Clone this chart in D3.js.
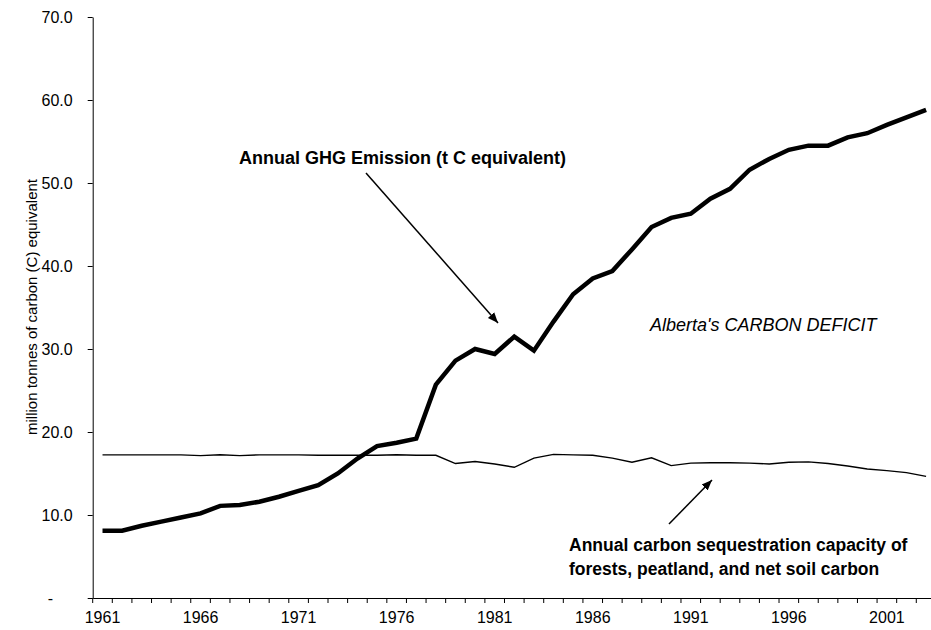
<!DOCTYPE html>
<html>

<head>
  <title>Alberta Carbon Deficit</title>
  <script src="https://cdn.jsdelivr.net/npm/d3@7"></script>
  <style>
    body { margin: 0; background: #fff; }
    text { font-family: Arial, 'Liberation Sans', sans-serif; }
  </style>
</head>

<body>
  <svg width="931" height="630" id="mainsvg"></svg>
  <script>
    const svg = d3.select('#mainsvg');

    // data
    const years = d3.range(1961, 2004);
    const emission = [8.1, 8.1, 8.7, 9.2, 9.7, 10.2, 11.1, 11.2, 11.6, 12.2,
      12.9, 13.6, 15.0, 16.8, 18.3, 18.7, 19.2, 25.7, 28.6, 30.0,
      29.4, 31.5, 29.8, 33.3, 36.6, 38.5, 39.4, 42.0, 44.7, 45.8,
      46.3, 48.1, 49.3, 51.6, 52.9, 54.0, 54.5, 54.5, 55.5, 56.0,
      57.0, 57.9, 58.8];
    const sequestration = [17.25, 17.25, 17.25, 17.25, 17.25, 17.15, 17.25, 17.15, 17.25, 17.25,
      17.25, 17.2, 17.2, 17.2, 17.2, 17.25, 17.2, 17.2, 16.2, 16.45,
      16.15, 15.75, 16.85, 17.3, 17.25, 17.2, 16.85, 16.35, 16.9, 15.95,
      16.25, 16.3, 16.3, 16.25, 16.15, 16.35, 16.4, 16.2, 15.9, 15.55,
      15.35, 15.1, 14.65];
    const yTicks = [0, 10, 20, 30, 40, 50, 60, 70];
    const xLabelYears = [1961, 1966, 1971, 1976, 1981, 1986, 1991, 1996, 2001];

    const xScale = d3.scaleBand().domain(years).range([92.7, 935.9]).padding(0);
    const yScale = d3.scaleLinear().domain([0, 70]).range([598, 17]);
    const xc = d => xScale(d) + xScale.bandwidth() / 2;

    // y axis
    const yAxis = svg.append('g').attr('transform', 'translate(92.7,0)')
      .call(d3.axisLeft(yScale).tickValues(yTicks).tickSize(5).tickPadding(15).tickSizeOuter(0)
        .tickFormat(d => d === 0 ? '-' : d.toFixed(1)));
    yAxis.selectAll('text').attr('font-size', 16).attr('fill', '#000')
      .attr('font-family', 'Arial, Liberation Sans, sans-serif');
    yAxis.selectAll('.tick').filter(d => d === 0).select('text').attr('x', -39.5);
    yAxis.select('.domain').attr('stroke', '#000');
    yAxis.selectAll('line').attr('stroke', '#000');

    // x axis, ticks between the categories
    const xAxis = svg.append('g').attr('transform', 'translate(0,598)')
      .call(d3.axisBottom(xScale).tickSize(0).tickPadding(14)
        .tickFormat(d => xLabelYears.includes(d) ? d : ''));
    xAxis.selectAll('text').attr('font-size', 16).attr('fill', '#000')
      .attr('font-family', 'Arial, Liberation Sans, sans-serif');
    xAxis.select('.domain').attr('stroke', '#000');
    xAxis.selectAll('.sep').data(years.concat([2004])).join('line').attr('class', 'sep')
      .attr('x1', d => d === 2004 ? xScale.range()[1] : xScale(d))
      .attr('x2', d => d === 2004 ? xScale.range()[1] : xScale(d))
      .attr('y1', 0).attr('y2', 5).attr('stroke', '#000');

    // lines
    const line = d3.line().x(d => xc(d[0])).y(d => yScale(d[1]));
    svg.append('path').datum(years.map((yr, i) => [yr, sequestration[i]]))
      .attr('d', line).attr('fill', 'none').attr('stroke', '#000').attr('stroke-width', 1.4);
    svg.append('path').datum(years.map((yr, i) => [yr, emission[i]]))
      .attr('d', line).attr('fill', 'none').attr('stroke', '#000').attr('stroke-width', 4.5)
      .attr('stroke-linejoin', 'miter');

    // y title
    svg.append('text')
      .attr('transform', 'translate(37,307) rotate(-90)')
      .attr('text-anchor', 'middle').attr('font-size', 15)
      .text('million tonnes of carbon (C) equivalent');

    // annotations
    svg.append('defs').append('marker').attr('id', 'arr')
      .attr('viewBox', '0 0 10 10').attr('refX', 10).attr('refY', 5)
      .attr('markerWidth', 7).attr('markerHeight', 7).attr('orient', 'auto')
      .append('path').attr('d', 'M0,1 L10,5 L0,9 Z').attr('fill', '#000');

    svg.append('text').attr('x', 239).attr('y', 164)
      .attr('font-size', 18).attr('font-weight', 'bold')
      .text('Annual GHG Emission (t C equivalent)');
    svg.append('line').attr('x1', 366).attr('y1', 173).attr('x2', 498).attr('y2', 323)
      .attr('stroke', '#000').attr('stroke-width', 1.5).attr('marker-end', 'url(#arr)');

    svg.append('text').attr('x', 650).attr('y', 331)
      .attr('font-size', 18).attr('font-style', 'italic')
      .text("Alberta's CARBON DEFICIT");

    const seqNote = svg.append('text').attr('x', 569).attr('y', 551)
      .attr('font-size', 17.5).attr('font-weight', 'bold');
    seqNote.append('tspan').attr('x', 569).text('Annual carbon sequestration capacity of');
    seqNote.append('tspan').attr('x', 569).attr('dy', 24).text('forests, peatland, and net soil carbon');
    svg.append('line').attr('x1', 669).attr('y1', 524).attr('x2', 712).attr('y2', 480)
      .attr('stroke', '#000').attr('stroke-width', 1.5).attr('marker-end', 'url(#arr)');
  </script>
</body>

</html>
